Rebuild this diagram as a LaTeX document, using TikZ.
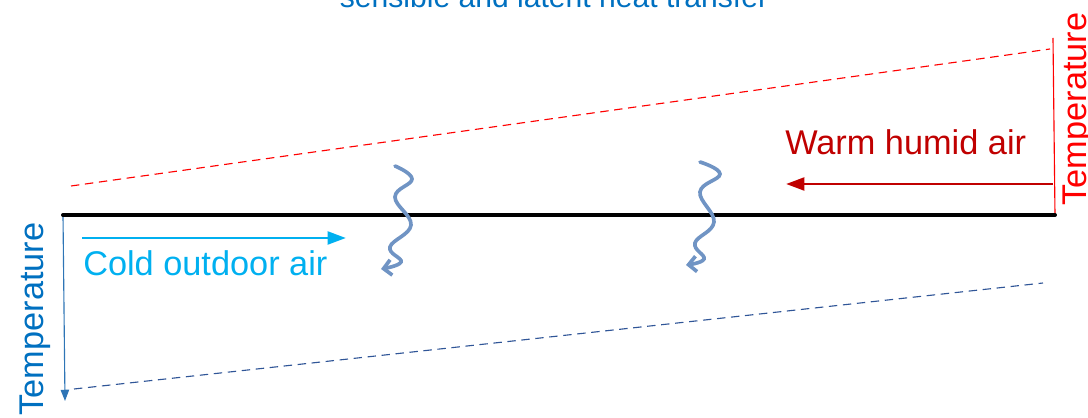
\documentclass[tikz,border=0pt]{standalone}
\usepackage{fontspec}
\setmainfont{Liberation Sans}
\usepackage{xcolor}
\usepackage{tikz}
\usetikzlibrary{arrows.meta}

\definecolor{azultitulo}{HTML}{0070C0}
\definecolor{celeste}{HTML}{00B0F0}
\definecolor{granate}{HTML}{C00000}
\definecolor{rojovivo}{HTML}{FF0000}
\definecolor{azultemp}{HTML}{2E75B6}
\definecolor{azulraya}{HTML}{2F5597}
\definecolor{acero}{HTML}{7094C4}

\begin{document}
\begin{tikzpicture}[
  x=0.025cm, y=-0.025cm,
  texto/.style={font=\fontsize{24.4}{29}\selectfont, inner sep=0pt},
  raya/.style={dash pattern=on 6pt off 4pt, line width=0.8pt},
  flujo/.style={line width=2.1pt, -{Triangle[length=13pt,width=9pt]}},
  onda/.style={draw=acero, line width=2.6pt, line cap=round,
               -{Straight Barb[length=5.5pt,width=11pt]}}
]
  \useasboundingbox (0,0) rectangle (1088,418);

  % textos
  \node[texto, font=\fontsize{21.4}{26}\selectfont, text=azultitulo, anchor=base] (titulo) at (554,8) {sensible and latent heat transfer};
  \node[texto, text=granate, anchor=base west] (caliente) at (785,155) {Warm humid air};
  \node[texto, text=celeste, anchor=base west] (frio) at (83,276) {Cold outdoor air};
  \node[texto, text=rojovivo, rotate=90, anchor=base] (tempcal) at (1086,109) {Temperature};
  \node[texto, text=azultitulo, rotate=90, anchor=base] (tempfria) at (43,319) {Temperature};

  % puntos
  \coordinate (placaI) at (63,215);
  \coordinate (placaD) at (1055,215);
  \coordinate (ejeRojo) at (1053,38);
  \coordinate (ejeAzul) at (65,401);
  \coordinate (rojoI) at (71,186);
  \coordinate (rojoD) at (1050,49);
  \coordinate (azulI) at (74,389);
  \coordinate (azulD) at (1043,283);
  \coordinate (calI) at (786,184);
  \coordinate (calD) at (1053,184);
  \coordinate (frioI) at (82,238);
  \coordinate (frioD) at (346,238);

  % ejes de temperatura
  \draw[rojovivo, line width=0.8pt] (placaD) -- (ejeRojo);
  \draw[azultemp, line width=0.8pt, -{Triangle[length=8pt,width=6pt]}] (placaI) -- (ejeAzul);

  % perfiles
  \draw[rojovivo, raya] (rojoI) -- (rojoD);
  \draw[azulraya, raya] (azulI) -- (azulD);

  % flujos de aire
  \draw[granate, flujo] (calD) -- (calI);
  \draw[celeste, flujo] (frioI) -- (frioD);

  % placa
  \draw[line width=2.8pt, line cap=round] (placaI) -- (placaD);

  % calor
  \draw[onda] plot[smooth, tension=0.7] coordinates {(395,166) (412,179) (395,197) (411,225) (390,247) (401,262) (381,269)};
  \draw[onda] plot[smooth, tension=0.7] coordinates {(700,162) (720,174) (700,192) (714,222) (695,243) (704,259) (686,265)};
\end{tikzpicture}
\end{document}
